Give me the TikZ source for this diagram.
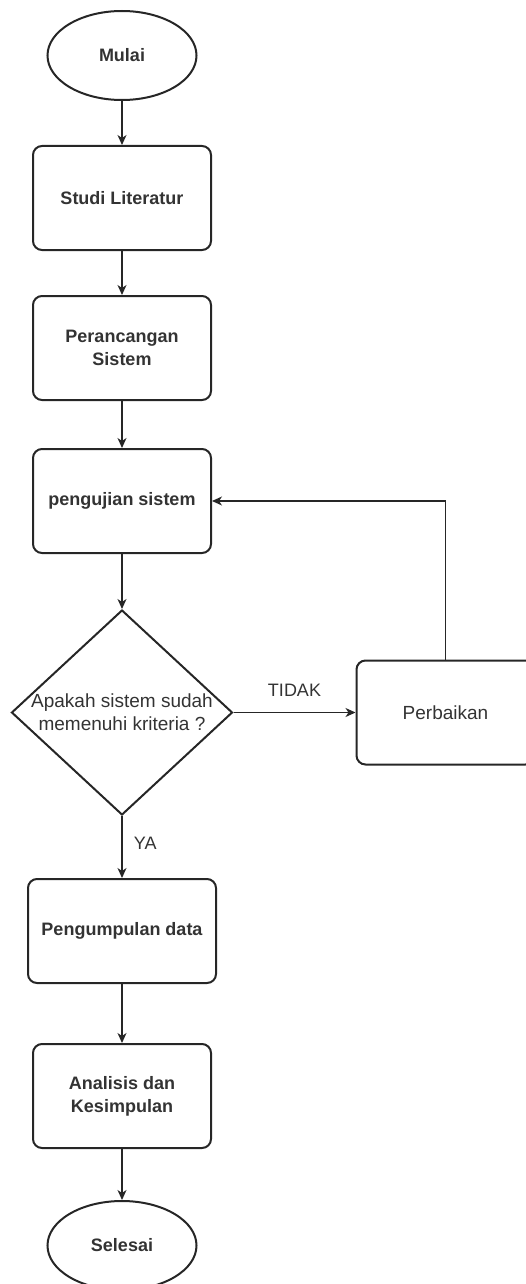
\documentclass[tikz,border=0pt]{standalone}
\usepackage{fontspec}
\setmainfont{Liberation Sans}
\usetikzlibrary{shapes,shapes.geometric,arrows.meta,positioning}

\begin{document}
\begin{tikzpicture}[x=1pt,y=-1pt]
    \tikzset{
        block/.style = {rectangle, draw=black!85, line width=2pt, rounded corners=9pt, text=black!80,
                        minimum width=178pt, minimum height=104pt, align=center,
                        font=\fontsize{18}{23}\selectfont\bfseries},
        term/.style = {ellipse, draw=black!85, line width=2pt, text=black!80, inner sep=0pt,
                       minimum width=149pt, minimum height=89pt,
                       font=\fontsize{18}{23}\selectfont\bfseries},
        decision/.style = {diamond, draw=black!85, line width=2pt, text=black!80, inner sep=-6pt,
                           minimum width=221pt, minimum height=205pt, align=center,
                           font=\fontsize{19}{23}\selectfont},
        line/.style = {draw=black!85, line width=1.3pt, -{Stealth[length=10pt,width=9pt,inset=3pt]}},
        tag/.style = {text=black!80, font=\fontsize{18}{22}\selectfont}
    }
    \useasboundingbox (0,0) rectangle (525,1284);

    \node[term](mulai) at (122,55.5){Mulai};
    \node[block](studi)[below = 44pt of mulai]{Studi Literatur};
    \node[block](rancang)[below = 44pt of studi]{Perancangan\\Sistem};
    \node[block](uji)[below = 47pt of rancang]{pengujian sistem};

    \node[decision](cek)[below = 55pt of uji]{Apakah sistem sudah\\memenuhi kriteria ?};
    \node[block, font=\fontsize{19}{23}\selectfont](perbaikan)[right = 122pt of cek]{Perbaikan};

    \node[block, minimum width=188pt](kumpul)[below = 62pt of cek]{Pengumpulan data};
    \node[block](analisis)[below = 59pt of kumpul]{Analisis dan\\Kesimpulan};
    \node[term](selesai)[below = 51pt of analisis]{Selesai};

    \path [line] (mulai) -- (studi);
    \path [line] (studi) -- (rancang);
    \path [line] (rancang) -- (uji);
    \path [line] (uji) -- (cek);

    \path [line] (cek) -- node[tag, midway, above=12pt]{TIDAK} (perbaikan);
    \path [line] (perbaikan.north) |- (uji.east);

    \path [line] (cek) -- node[tag, pos=0.44, right=8pt]{YA} (kumpul);
    \path [line] (kumpul) -- (analisis);
    \path [line] (analisis) -- (selesai);

\end{tikzpicture}
\end{document}
